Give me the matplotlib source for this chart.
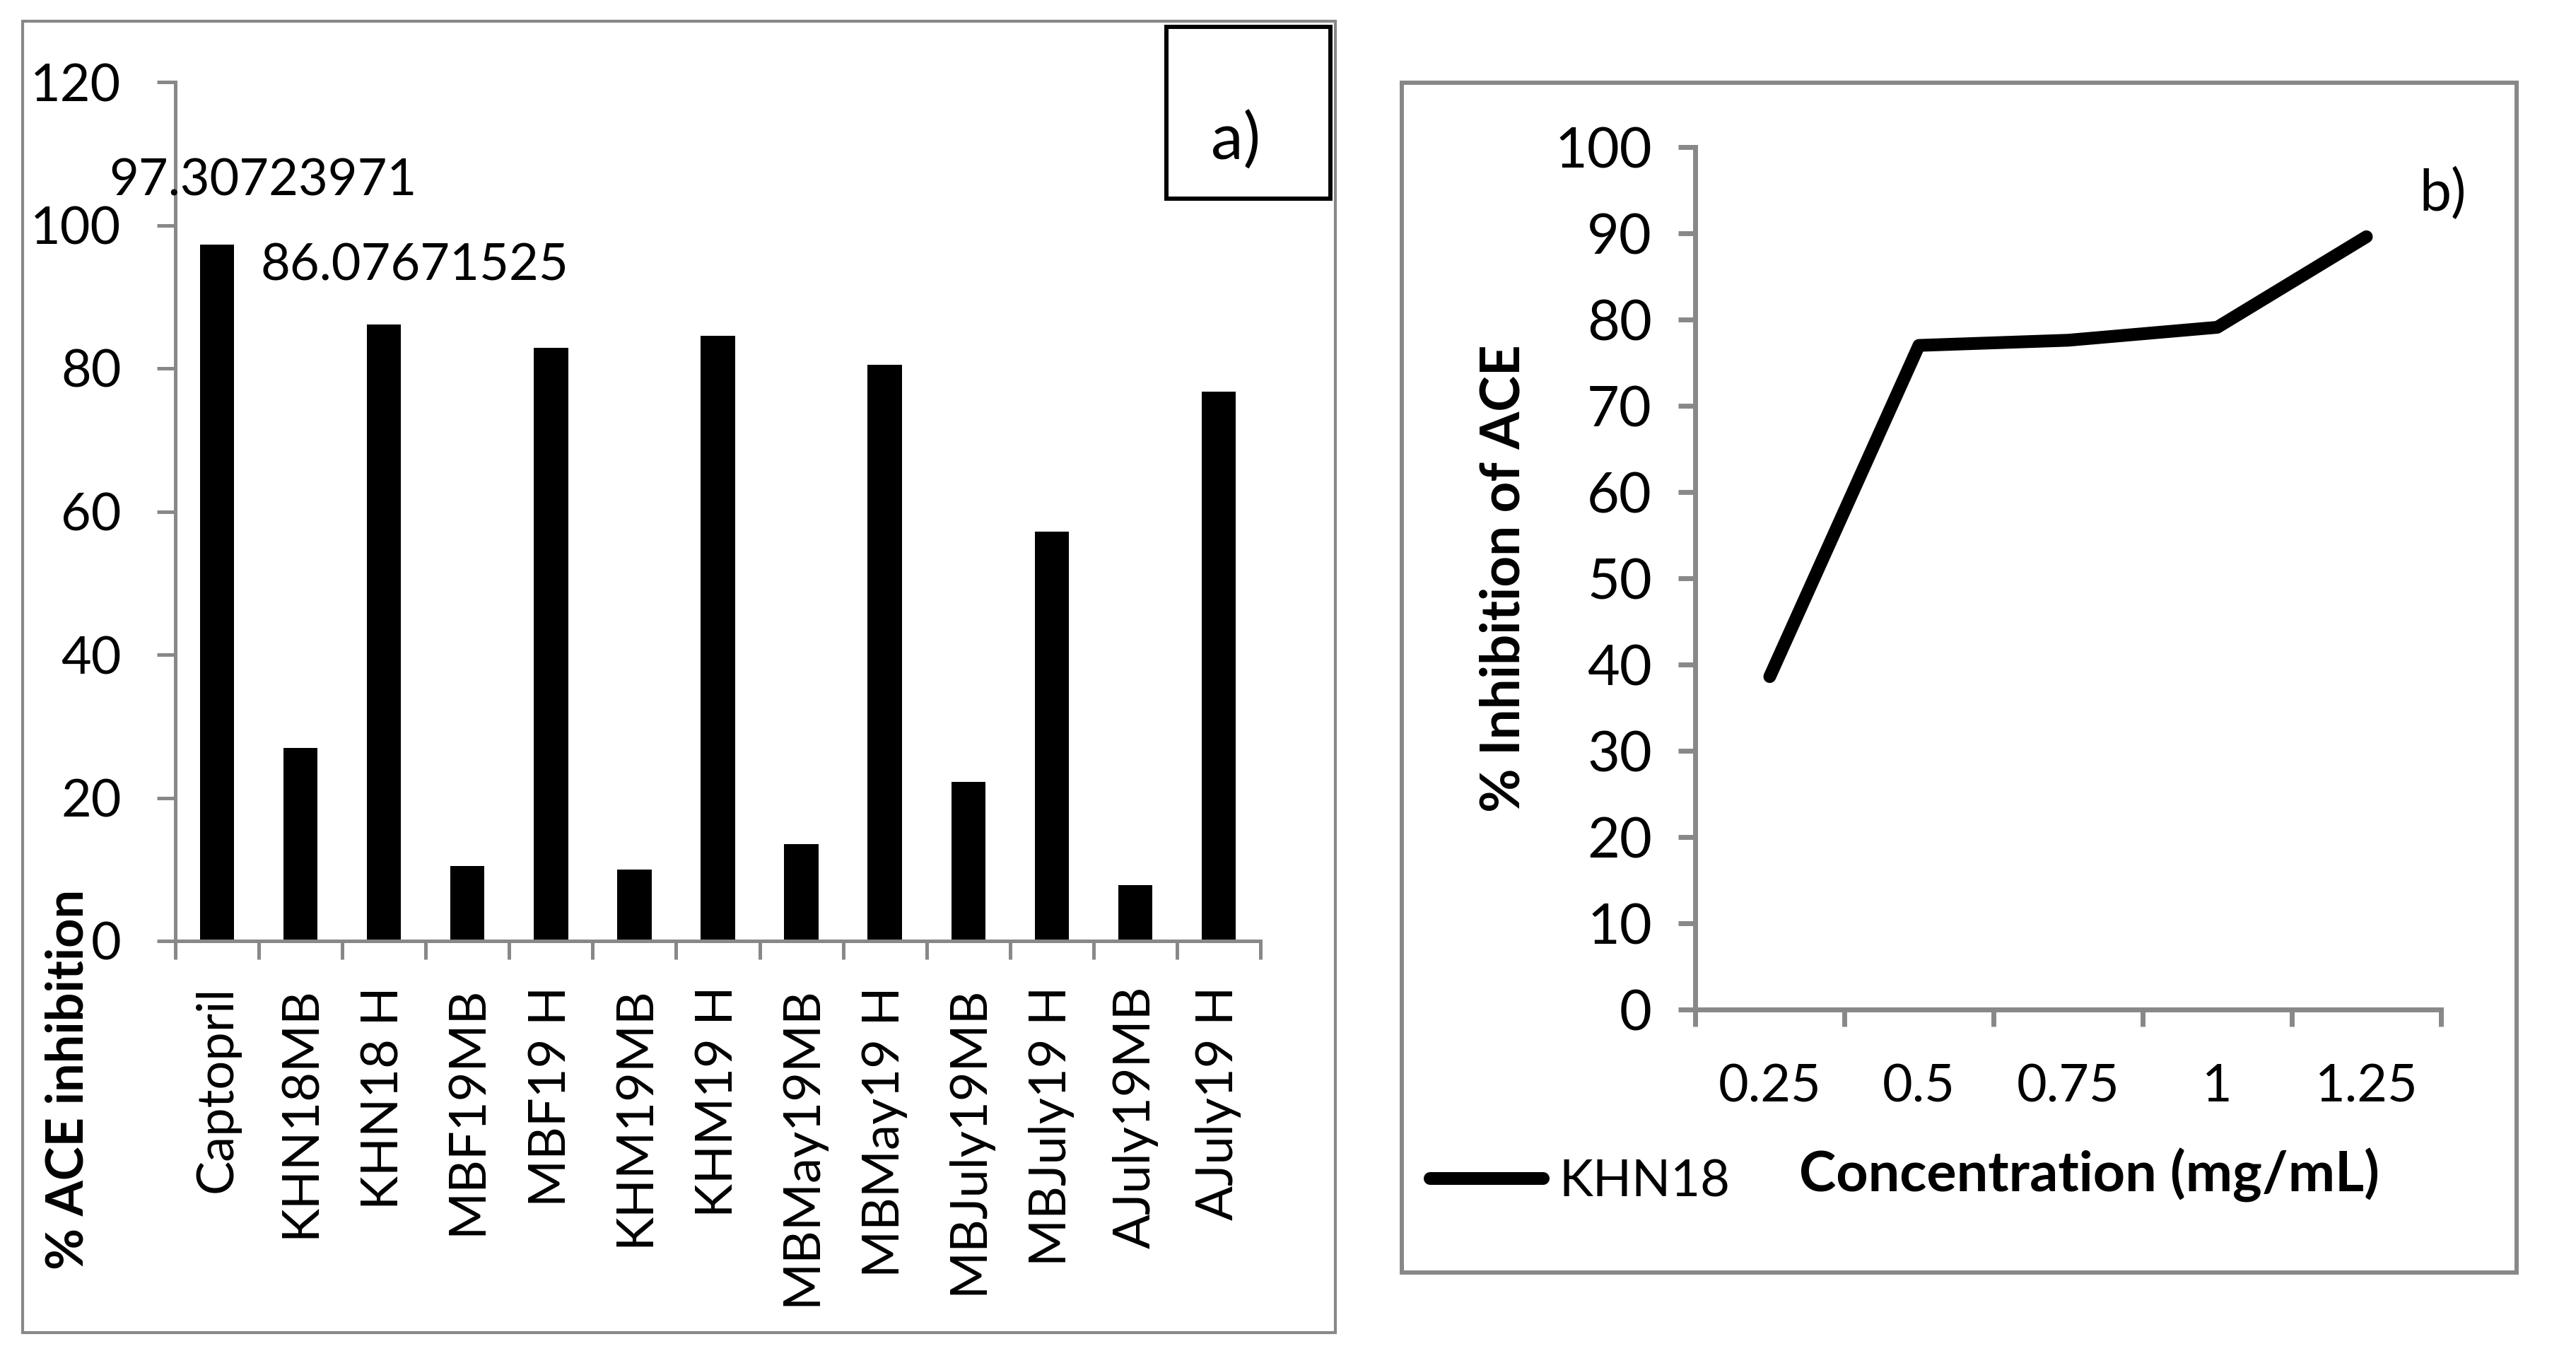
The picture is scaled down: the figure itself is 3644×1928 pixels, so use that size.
import numpy as np
import matplotlib
matplotlib.use('Agg')
import matplotlib.pyplot as plt
from matplotlib.patches import Rectangle

plt.rcParams['font.family'] = ['Lato', 'DejaVu Sans']

# panel a) data
samples = ['Captopril', 'KHN18MB', 'KHN18 H', 'MBF19MB', 'MBF19 H', 'KHM19MB',
           'KHM19 H', 'MBMay19MB', 'MBMay19 H', 'MBJuly19MB', 'MBJuly19 H',
           'AJuly19MB', 'AJuly19 H']
inhibition = [97.30723971, 27.0, 86.07671525, 10.5, 82.9, 10.0, 84.5, 13.5,
              80.5, 22.2, 57.2, 7.8, 76.7]
labelled = [0, 2]  # bars that carry a data label
yticks_a = [0, 20, 40, 60, 80, 100, 120]

# panel b) data
conc_labels = ['0.25', '0.5', '0.75', '1', '1.25']
khn18 = [38.6, 77.0, 77.6, 79.1, 89.6]
yticks_b = [0, 10, 20, 30, 40, 50, 60, 70, 80, 90, 100]

W, H = 3644, 1928
GREY = '#888888'


def fx(px):
    return px / W


def fy(py):
    return 1 - py / H


fig = plt.figure(figsize=(W / 100, H / 100), dpi=100)

# ---- panel a) bar chart
ax1 = fig.add_axes([fx(248), fy(1331), (1783 - 248) / W, (1331 - 116) / H])
xa = np.arange(len(samples)) + 0.5
ax1.bar(xa, inhibition, width=0.41, color='black')
ax1.set_xlim(0, len(samples))
ax1.set_ylim(0, 120)
for s in ['top', 'right']:
    ax1.spines[s].set_visible(False)
for s in ['left', 'bottom']:
    ax1.spines[s].set_color(GREY)
    ax1.spines[s].set_linewidth(3.6)
ax1.set_xticks(np.arange(len(samples) + 1))
ax1.set_xticklabels([])
ax1.set_xticks(xa, minor=True)
ax1.set_xticklabels(samples, minor=True, rotation=90, fontsize=52)
ax1.tick_params(axis='x', which='major', direction='out', length=19, width=3.6, color=GREY)
ax1.tick_params(axis='x', which='minor', length=0, pad=46)
ax1.set_yticks(yticks_a)
ax1.tick_params(axis='y', direction='out', length=19, width=3.6, color=GREY,
                labelsize=53, pad=36)
offsets = {0: (65, 90), 2: (43, 83)}
for i in labelled:
    ax1.annotate(str(inhibition[i]), xy=(xa[i], inhibition[i]), xytext=offsets[i],
                 textcoords='offset pixels', ha='center', va='center', fontsize=52)
fig.text(fx(97), fy(1527), '% ACE inhibition', rotation=90, ha='center', va='center',
         fontsize=52, fontweight='bold')

# ---- panel b) line chart
ax2 = fig.add_axes([fx(2398), fy(1428), (3453 - 2398) / W, (1428 - 208) / H])
xb = np.arange(len(conc_labels)) + 0.5
line, = ax2.plot(xb, khn18, color='black', lw=13, solid_capstyle='round',
                 solid_joinstyle='round', label='KHN18')
ax2.set_xlim(0, len(conc_labels))
ax2.set_ylim(0, 100)
for s in ['top', 'right']:
    ax2.spines[s].set_visible(False)
for s in ['left', 'bottom']:
    ax2.spines[s].set_color(GREY)
    ax2.spines[s].set_linewidth(5)
ax2.set_xticks(np.arange(len(conc_labels) + 1))
ax2.set_xticklabels([])
ax2.set_xticks(xb, minor=True)
ax2.set_xticklabels(conc_labels, minor=True, fontsize=53)
ax2.tick_params(axis='x', which='major', direction='out', length=17, width=5, color=GREY)
ax2.tick_params(axis='x', which='minor', length=0, pad=55)
ax2.set_yticks(yticks_b)
ax2.tick_params(axis='y', direction='out', length=17, width=5, color=GREY,
                labelsize=57, pad=27)

fig.legend(handles=[line], loc='center left', bbox_to_anchor=(fx(2023), fy(1672)),
           frameon=False, borderpad=0, borderaxespad=0, handlelength=2.22,
           handletextpad=0.3, fontsize=52)
fig.text(fx(2955), fy(1662), 'Concentration (mg/mL)', ha='center', va='center',
         fontsize=57, fontweight='bold')
fig.text(fx(2128), fy(818), '% Inhibition of ACE', rotation=90, ha='center',
         va='center', fontsize=55, fontweight='bold')
fig.text(fx(3422), fy(298), 'b)', fontsize=58, ha='left', va='baseline')

# panel frames and the a) box
fig.add_artist(Rectangle((fx(32), fy(1885)), (1889 - 32) / W, (1885 - 30) / H,
                         transform=fig.transFigure, fill=False, ec=GREY, lw=3))
fig.add_artist(Rectangle((fx(1983), fy(1800)), (3560 - 1983) / W, (1800 - 117) / H,
                         transform=fig.transFigure, fill=False, ec=GREY, lw=4.3))
fig.add_artist(Rectangle((fx(1650), fy(281)), (1882 - 1650) / W, (281 - 38) / H,
                         transform=fig.transFigure, fill=False, ec='black', lw=4.3))
fig.text(fx(1713), fy(226), 'a)', fontsize=66, ha='left', va='baseline')

fig.savefig('out.png', dpi=100)
